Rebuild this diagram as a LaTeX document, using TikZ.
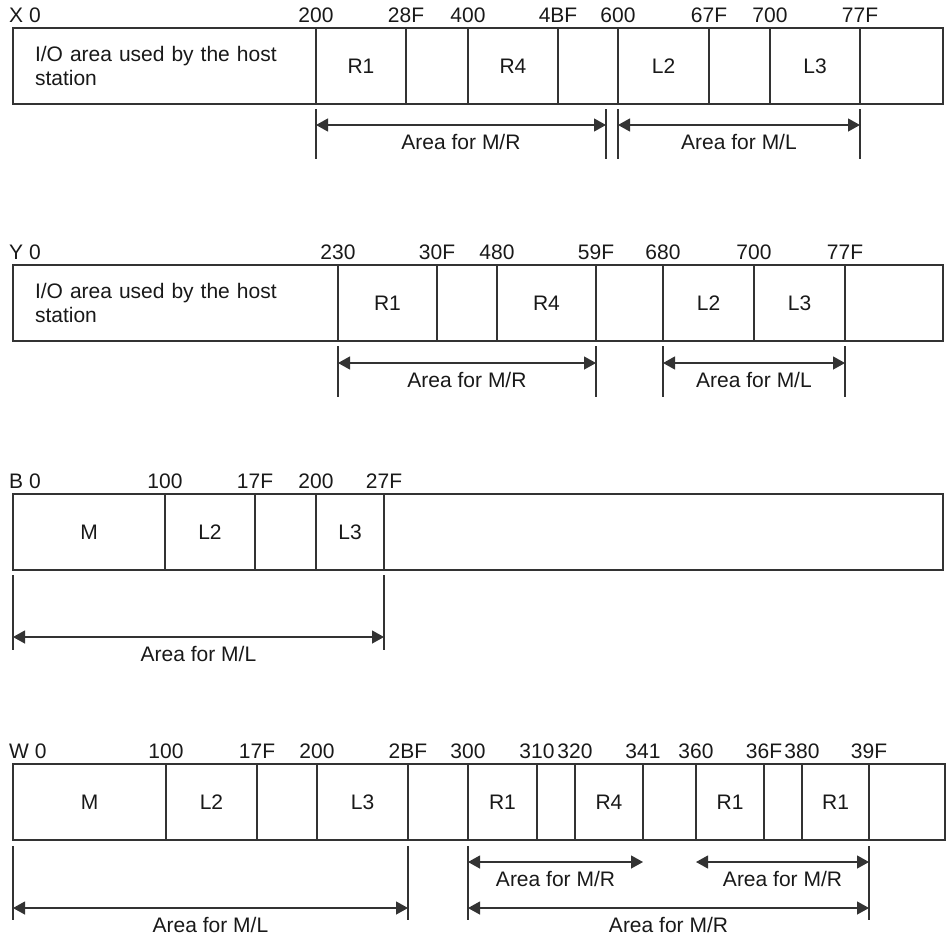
\documentclass[tikz,border=0pt]{standalone}
\usepackage{fontspec}
\setmainfont{Liberation Sans}
\usetikzlibrary{arrows.meta,positioning}
\tikzset{
  cell/.style={rectangle,draw=black!80,line width=1.3pt,outer sep=0pt,
               inner sep=0pt,minimum height=76pt},
  hostcell/.style={cell,align=left,inner xsep=22pt,text width=#1},
  addr/.style={anchor=base,yshift=6pt,inner sep=0pt},
  rowname/.style={addr,anchor=base west,xshift=-4pt},
  tick/.style={draw=black!80,line width=1.2pt},
  dim/.style={{Triangle[length=12pt,width=13pt]}-{Triangle[length=12pt,width=13pt]},
              draw=black!80,line width=1.2pt},
  area/.style={anchor=base,yshift=-24pt,inner sep=0pt},
}
\begin{document}
\begin{tikzpicture}[x=1pt,y=-1pt,font=\fontsize{21pt}{24pt}\selectfont,
  text=black!90]
  \useasboundingbox (0,0) rectangle (947,938);

  % X station
  \node[hostcell=259pt,anchor=north west] (xH) at (13,28)
    {I/O area used by the host\\station};
  \node[cell,minimum width=90pt,right=0pt of xH] (xR1) {R1};
  \node[cell,minimum width=62pt,right=0pt of xR1] (xE1) {};
  \node[cell,minimum width=90pt,right=0pt of xE1] (xR4) {R4};
  \node[cell,minimum width=60pt,right=0pt of xR4] (xE2) {};
  \node[cell,minimum width=91pt,right=0pt of xE2] (xL2) {L2};
  \node[cell,minimum width=61pt,right=0pt of xL2] (xE3) {};
  \node[cell,minimum width=90pt,right=0pt of xE3] (xL3) {L3};
  \node[cell,minimum width=83pt,right=0pt of xL3] (xE4) {};

  \node[rowname] (xA0) at (xH.north west) {X 0};
  \node[addr] (xA1) at (xR1.north west) {200};
  \node[addr] (xA2) at (xR1.north east) {28F};
  \node[addr] (xA3) at (xR4.north west) {400};
  \node[addr] (xA4) at (xR4.north east) {4BF};
  \node[addr] (xA5) at (xL2.north west) {600};
  \node[addr] (xA6) at (xL2.north east) {67F};
  \node[addr] (xA7) at (xL3.north west) {700};
  \node[addr] (xA8) at (xL3.north east) {77F};

  \draw[tick] ([yshift=-5pt]xR1.south west) -- ++(0pt,-50pt);
  \draw[tick] ([xshift=-12pt,yshift=-5pt]xL2.south west) -- ++(0pt,-50pt);
  \draw[tick] ([yshift=-5pt]xL2.south west) -- ++(0pt,-50pt);
  \draw[tick] ([yshift=-5pt]xL3.south east) -- ++(0pt,-50pt);
  \coordinate (xM1) at ([yshift=-21pt]xR1.south west);
  \coordinate (xM2) at ([xshift=-12pt,yshift=-21pt]xL2.south west);
  \coordinate (xM3) at ([yshift=-21pt]xL2.south west);
  \coordinate (xM4) at ([yshift=-21pt]xL3.south east);
  \draw[dim] (xM1) -- node[area] (xT1) {Area for M/R} (xM2);
  \draw[dim] (xM3) -- node[area] (xT2) {Area for M/L} (xM4);

  % Y station
  \node[hostcell=281pt,anchor=north west] (yH) at (13,265)
    {I/O area used by the host\\station};
  \node[cell,minimum width=99pt,right=0pt of yH] (yR1) {R1};
  \node[cell,minimum width=60pt,right=0pt of yR1] (yE1) {};
  \node[cell,minimum width=99pt,right=0pt of yE1] (yR4) {R4};
  \node[cell,minimum width=67pt,right=0pt of yR4] (yE2) {};
  \node[cell,minimum width=91pt,right=0pt of yE2] (yL2) {L2};
  \node[cell,minimum width=91pt,right=0pt of yL2] (yL3) {L3};
  \node[cell,minimum width=98pt,right=0pt of yL3] (yE3) {};

  \node[rowname] (yA0) at (yH.north west) {Y 0};
  \node[addr] (yA1) at (yR1.north west) {230};
  \node[addr] (yA2) at (yR1.north east) {30F};
  \node[addr] (yA3) at (yR4.north west) {480};
  \node[addr] (yA4) at (yR4.north east) {59F};
  \node[addr] (yA5) at (yL2.north west) {680};
  \node[addr] (yA6) at (yL3.north west) {700};
  \node[addr] (yA7) at (yL3.north east) {77F};

  \draw[tick] ([yshift=-5pt]yR1.south west) -- ++(0pt,-51pt);
  \draw[tick] ([yshift=-5pt]yR4.south east) -- ++(0pt,-51pt);
  \draw[tick] ([yshift=-5pt]yL2.south west) -- ++(0pt,-51pt);
  \draw[tick] ([yshift=-5pt]yL3.south east) -- ++(0pt,-51pt);
  \coordinate (yM1) at ([yshift=-22pt]yR1.south west);
  \coordinate (yM2) at ([yshift=-22pt]yR4.south east);
  \coordinate (yM3) at ([yshift=-22pt]yL2.south west);
  \coordinate (yM4) at ([yshift=-22pt]yL3.south east);
  \draw[dim] (yM1) -- node[area] (yT1) {Area for M/R} (yM2);
  \draw[dim] (yM3) -- node[area] (yT2) {Area for M/L} (yM4);

  % B station
  \node[cell,minimum width=152pt,anchor=north west] (bM) at (13,494) {M};
  \node[cell,minimum width=90pt,right=0pt of bM] (bL2) {L2};
  \node[cell,minimum width=61pt,right=0pt of bL2] (bE1) {};
  \node[cell,minimum width=68pt,right=0pt of bE1] (bL3) {L3};
  \node[cell,minimum width=559pt,right=0pt of bL3] (bE2) {};

  \node[rowname] (bA0) at (bM.north west) {B 0};
  \node[addr] (bA1) at (bL2.north west) {100};
  \node[addr] (bA2) at (bL2.north east) {17F};
  \node[addr] (bA3) at (bL3.north west) {200};
  \node[addr] (bA4) at (bL3.north east) {27F};

  \draw[tick] ([yshift=-5pt]bM.south west) -- ++(0pt,-75pt);
  \draw[tick] ([yshift=-5pt]bL3.south east) -- ++(0pt,-75pt);
  \coordinate (bM1) at ([yshift=-67pt]bM.south west);
  \coordinate (bM2) at ([yshift=-67pt]bL3.south east);
  \draw[dim] (bM1) -- node[area] (bT1) {Area for M/L} (bM2);

  % W station
  \node[cell,minimum width=153pt,anchor=north west] (wM) at (13,764) {M};
  \node[cell,minimum width=91pt,right=0pt of wM] (wL2) {L2};
  \node[cell,minimum width=60pt,right=0pt of wL2] (wE1) {};
  \node[cell,minimum width=91pt,right=0pt of wE1] (wL3) {L3};
  \node[cell,minimum width=60pt,right=0pt of wL3] (wE2) {};
  \node[cell,minimum width=69pt,right=0pt of wE2] (wR1a) {R1};
  \node[cell,minimum width=38pt,right=0pt of wR1a] (wE3) {};
  \node[cell,minimum width=68pt,right=0pt of wE3] (wR4) {R4};
  \node[cell,minimum width=53pt,right=0pt of wR4] (wE4) {};
  \node[cell,minimum width=68pt,right=0pt of wE4] (wR1b) {R1};
  \node[cell,minimum width=38pt,right=0pt of wR1b] (wE5) {};
  \node[cell,minimum width=67pt,right=0pt of wE5] (wR1c) {R1};
  \node[cell,minimum width=76pt,right=0pt of wR1c] (wE6) {};

  \node[rowname] (wA0) at (wM.north west) {W 0};
  \node[addr] (wA1) at (wL2.north west) {100};
  \node[addr] (wA2) at (wL2.north east) {17F};
  \node[addr] (wA3) at (wL3.north west) {200};
  \node[addr] (wA4) at (wL3.north east) {2BF};
  \node[addr] (wA5) at (wR1a.north west) {300};
  \node[addr] (wA6) at (wR1a.north east) {310};
  \node[addr] (wA7) at (wR4.north west) {320};
  \node[addr] (wA8) at (wR4.north east) {341};
  \node[addr] (wA9) at (wR1b.north west) {360};
  \node[addr] (wA10) at (wR1b.north east) {36F};
  \node[addr] (wA11) at (wR1c.north west) {380};
  \node[addr] (wA12) at (wR1c.north east) {39F};

  \draw[tick] ([yshift=-6pt]wM.south west) -- ++(0pt,-74pt);
  \draw[tick] ([yshift=-6pt]wL3.south east) -- ++(0pt,-74pt);
  \draw[tick] ([yshift=-6pt]wR1a.south west) -- ++(0pt,-74pt);
  \draw[tick] ([yshift=-6pt]wR1c.south east) -- ++(0pt,-74pt);
  \coordinate (wM1) at ([yshift=-22pt]wR1a.south west);
  \coordinate (wM2) at ([yshift=-22pt]wR4.south east);
  \coordinate (wM3) at ([yshift=-22pt]wR1b.south west);
  \coordinate (wM4) at ([yshift=-22pt]wR1c.south east);
  \coordinate (wM5) at ([yshift=-68pt]wM.south west);
  \coordinate (wM6) at ([yshift=-68pt]wL3.south east);
  \coordinate (wM7) at ([yshift=-68pt]wR1a.south west);
  \coordinate (wM8) at ([yshift=-68pt]wR1c.south east);
  \draw[dim] (wM1) -- node[area] (wT1) {Area for M/R} (wM2);
  \draw[dim] (wM3) -- node[area] (wT2) {Area for M/R} (wM4);
  \draw[dim] (wM5) -- node[area] (wT3) {Area for M/L} (wM6);
  \draw[dim] (wM7) -- node[area] (wT4) {Area for M/R} (wM8);
\end{tikzpicture}
\end{document}
